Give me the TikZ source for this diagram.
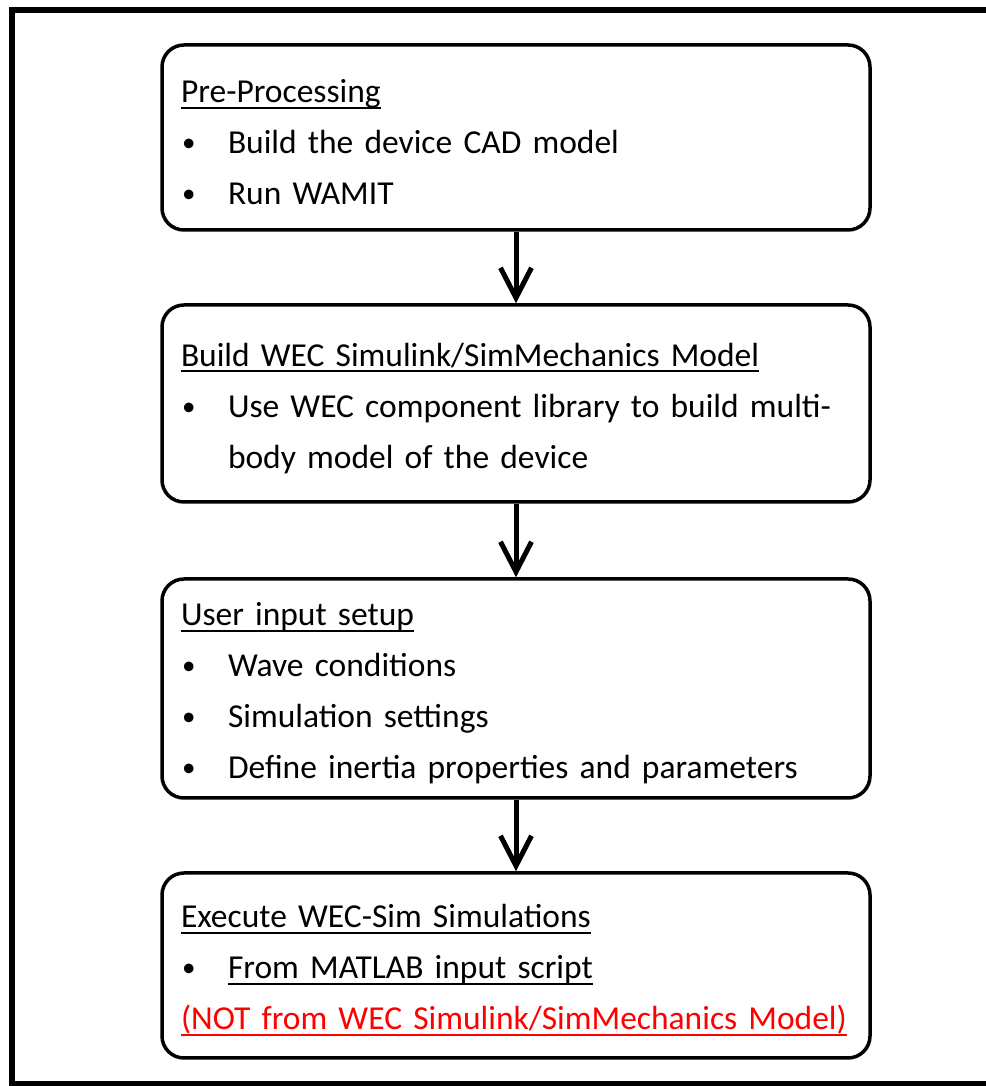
\documentclass[tikz,border=0pt]{standalone}
\usepackage{fontspec}
\setmainfont{Carlito}
\usetikzlibrary{arrows.meta}
\newcommand{\bul}{\makebox[47pt][l]{\hspace{1pt}\raisebox{2pt}{\fontsize{27}{27}\selectfont\textbullet}}}
\newcommand{\undl}[1]{\leavevmode\setbox0\hbox{#1}\hbox{\rlap{\vrule height -4pt depth 6pt width \wd0}\box0}}
\begin{document}
\begin{tikzpicture}[x=1pt,y=1pt,
  stage/.style={draw, line width=3.5pt, rounded corners=22pt, minimum width=708pt,
    text width=670pt, inner xsep=19pt, align=left, font=\fontsize{33.5}{51}\selectfont,
    execute at begin node={\rule{0pt}{33pt}}},
  flow/.style={line width=5pt, -{Straight Barb[length=30pt,width=31pt]}}]
\useasboundingbox (0,0) rectangle (985,1086);
% outer frame, open on the right
\draw[line width=6pt] (1010,1076) -- (12,1076) -- (12,2) -- (1010,2);
\node[stage, minimum height=185pt] (pre) at (516,948.5)
  {\undl{Pre-Processing}\\
   \bul Build the device CAD model\\
   \bul Run WAMIT};
\node[stage, minimum height=197pt] (build) at (516,682.5)
  {\undl{Build WEC Simulink/SimMechanics Model}\\
   \bul Use WEC component library to build multi-\\
   \hspace*{47pt}body model of the device};
\node[stage, minimum height=219pt] (setup) at (516,397.5)
  {\undl{User input setup}\\
   \bul Wave conditions\\
   \bul Simulation settings\\
   \bul Define inertia properties and parameters};
\node[stage, minimum height=185pt] (run) at (516,120.5)
  {\undl{Execute WEC-Sim Simulations}\\
   \bul\undl{From MATLAB input script}\\
   \color{red}\undl{(NOT from WEC Simulink/SimMechanics Model)}};
\draw[flow] (pre) -- (build);
\draw[flow] (build) -- (setup);
\draw[flow] (setup) -- (run);
\end{tikzpicture}
\end{document}
